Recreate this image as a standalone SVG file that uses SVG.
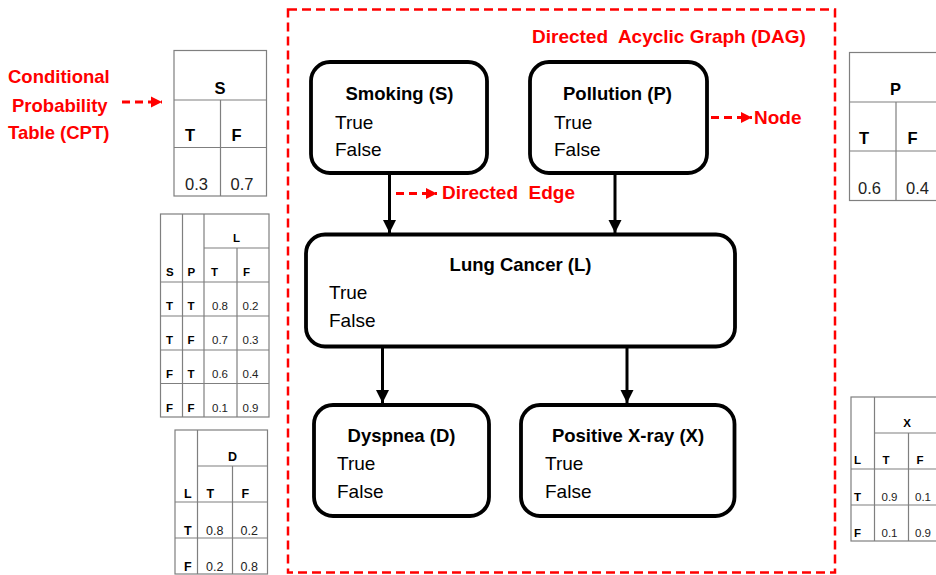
<svg xmlns="http://www.w3.org/2000/svg" width="936" height="575" viewBox="0 0 936 575">
  <defs>
    <marker id="blackHead" markerUnits="userSpaceOnUse" markerWidth="14" markerHeight="14" viewBox="0 0 14 14" refX="13" refY="7" orient="auto">
      <path d="M0,0.5 L13,7 L0,13.5 Z" fill="#000"/>
    </marker>
    <marker id="redHead" markerUnits="userSpaceOnUse" markerWidth="12" markerHeight="12" viewBox="0 0 12 12" refX="11" refY="6" orient="auto">
      <path d="M0,0.5 L11,6 L0,11.5 Z" fill="#ff0000"/>
    </marker>
    <style>
      .box { fill: #fff; stroke: #000; stroke-width: 3.8; }
      .frame { fill: none; stroke: #ff0000; stroke-width: 2.5; stroke-dasharray: 9 5; }
      .edge { stroke: #000; stroke-width: 3; fill: none; marker-end: url(#blackHead); }
      .callout { stroke: #ff0000; stroke-width: 3; fill: none; stroke-dasharray: 8 5; marker-end: url(#redHead); }
      .title { font-family: "Liberation Sans", Arial, sans-serif; font-weight: bold; font-size: 18.5px; fill: #000; text-anchor: middle; }
      .state { font-family: "Liberation Sans", Arial, sans-serif; font-size: 19px; fill: #000; }
      .red { font-family: "Liberation Sans", Arial, sans-serif; font-weight: bold; font-size: 19px; fill: #ff0000; white-space: pre; }
      .grid { fill: #fff; stroke: #7f7f7f; stroke-width: 1.2; }
      .gl { stroke: #7f7f7f; stroke-width: 1.2; }
      .th { font-family: "Liberation Sans", Arial, sans-serif; font-weight: bold; fill: #000; }
      .td { font-family: "Liberation Sans", Arial, sans-serif; fill: #222; }
      .big { font-size: 16.5px; }
      .mid { font-size: 12.5px; }
      .small { font-size: 11.5px; }
    </style>
  </defs>

  <rect width="936" height="575" fill="#fff"/>

  <!-- DAG frame and labels -->
  <rect class="frame" x="288" y="9.5" width="547" height="563"/>
  <text class="red" x="532" y="43" xml:space="preserve">Directed  Acyclic Graph (DAG)</text>
  <text class="red" x="8" y="83" style="font-size:18.5px">Conditional</text>
  <text class="red" x="12" y="112" style="font-size:18.5px">Probability</text>
  <text class="red" x="8" y="139" style="font-size:18.5px">Table (CPT)</text>
  <text class="red" x="754" y="124">Node</text>
  <text class="red" x="442" y="199" xml:space="preserve">Directed  Edge</text>

  <!-- connectors -->
  <g id="edges">
    <line class="edge" x1="389.5" y1="173" x2="389.5" y2="233"/>
    <line class="edge" x1="615" y1="173" x2="615" y2="233"/>
    <line class="edge" x1="382.5" y1="347" x2="382.5" y2="403"/>
    <line class="edge" x1="627" y1="347" x2="627" y2="403"/>
  </g>
  <g id="callouts">
    <line class="callout" x1="122" y1="102" x2="162" y2="102"/>
    <line class="callout" x1="711" y1="117.5" x2="752" y2="117.5"/>
    <line class="callout" x1="396" y1="193.5" x2="437" y2="193.5"/>
  </g>

  <!-- nodes -->
  <g id="smoking">
    <rect class="box" x="311" y="62" width="176" height="111" rx="19"/>
    <text class="title" x="399.5" y="99.5">Smoking (S)</text>
    <text class="state" x="335" y="128.5">True</text>
    <text class="state" x="335" y="156">False</text>
  </g>
  <g id="pollution">
    <rect class="box" x="530" y="62" width="177" height="111" rx="19"/>
    <text class="title" x="617.5" y="99.5">Pollution (P)</text>
    <text class="state" x="554" y="128.5">True</text>
    <text class="state" x="554" y="156">False</text>
  </g>
  <g id="lung">
    <rect class="box" x="306" y="234.5" width="429" height="112" rx="19"/>
    <text class="title" x="520.5" y="271">Lung Cancer (L)</text>
    <text class="state" x="329" y="299">True</text>
    <text class="state" x="329" y="327">False</text>
  </g>
  <g id="dyspnea">
    <rect class="box" x="314" y="405" width="175" height="111" rx="19"/>
    <text class="title" x="401.5" y="442">Dyspnea (D)</text>
    <text class="state" x="337" y="470">True</text>
    <text class="state" x="337" y="498">False</text>
  </g>
  <g id="xray">
    <rect class="box" x="521" y="405" width="213.5" height="111" rx="19"/>
    <text class="title" x="628" y="442">Positive X-ray (X)</text>
    <text class="state" x="545" y="470">True</text>
    <text class="state" x="545" y="498">False</text>
  </g>

  <!-- CPT for S -->
  <g id="cpt-s">
    <rect class="grid" x="174" y="50.5" width="92.5" height="145.5"/>
    <line class="gl" x1="174" y1="100" x2="266.5" y2="100"/>
    <line class="gl" x1="174" y1="147.5" x2="266.5" y2="147.5"/>
    <line class="gl" x1="220.5" y1="100" x2="220.5" y2="196"/>
    <text class="th big" x="220" y="93.5" text-anchor="middle">S</text>
    <text class="th big" x="185" y="141">T</text>
    <text class="th big" x="231.5" y="141">F</text>
    <text class="td big" x="185" y="189.5">0.3</text>
    <text class="td big" x="230.5" y="189.5">0.7</text>
  </g>

  <!-- CPT for P -->
  <g id="cpt-p">
    <rect class="grid" x="849.5" y="52.5" width="95" height="148"/>
    <line class="gl" x1="849.5" y1="102" x2="944" y2="102"/>
    <line class="gl" x1="849.5" y1="151" x2="944" y2="151"/>
    <line class="gl" x1="896" y1="102" x2="896" y2="200.5"/>
    <text class="th big" x="895.5" y="94.5" text-anchor="middle">P</text>
    <text class="th big" x="859" y="144">T</text>
    <text class="th big" x="907.5" y="144">F</text>
    <text class="td big" x="858" y="193.5">0.6</text>
    <text class="td big" x="906" y="193.5">0.4</text>
  </g>

  <!-- CPT for L -->
  <g id="cpt-l">
    <rect class="grid" x="160.5" y="214" width="108.5" height="203"/>
    <line class="gl" x1="204" y1="248" x2="269" y2="248"/>
    <line class="gl" x1="160.5" y1="282" x2="269" y2="282"/>
    <line class="gl" x1="160.5" y1="316" x2="269" y2="316"/>
    <line class="gl" x1="160.5" y1="350" x2="269" y2="350"/>
    <line class="gl" x1="160.5" y1="383.5" x2="269" y2="383.5"/>
    <line class="gl" x1="182.5" y1="214" x2="182.5" y2="417"/>
    <line class="gl" x1="204" y1="214" x2="204" y2="417"/>
    <line class="gl" x1="237" y1="248" x2="237" y2="417"/>
    <text class="th small" x="236.5" y="242" text-anchor="middle">L</text>
    <text class="th small" x="166" y="276">S</text>
    <text class="th small" x="187.5" y="276">P</text>
    <text class="th small" x="211" y="276">T</text>
    <text class="th small" x="243" y="276">F</text>
    <text class="th small" x="166" y="310">T</text>
    <text class="th small" x="187.5" y="310">T</text>
    <text class="td small" x="212" y="310">0.8</text>
    <text class="td small" x="242.5" y="310">0.2</text>
    <text class="th small" x="166" y="344">T</text>
    <text class="th small" x="187.5" y="344">F</text>
    <text class="td small" x="212" y="344">0.7</text>
    <text class="td small" x="242.5" y="344">0.3</text>
    <text class="th small" x="166" y="378">F</text>
    <text class="th small" x="187.5" y="378">T</text>
    <text class="td small" x="212" y="378">0.6</text>
    <text class="td small" x="242.5" y="378">0.4</text>
    <text class="th small" x="166" y="411.5">F</text>
    <text class="th small" x="187.5" y="411.5">F</text>
    <text class="td small" x="212" y="411.5">0.1</text>
    <text class="td small" x="242.5" y="411.5">0.9</text>
  </g>

  <!-- CPT for D -->
  <g id="cpt-d">
    <rect class="grid" x="175" y="430" width="92.5" height="144"/>
    <line class="gl" x1="197.5" y1="466" x2="267.5" y2="466"/>
    <line class="gl" x1="175" y1="502" x2="267.5" y2="502"/>
    <line class="gl" x1="175" y1="538" x2="267.5" y2="538"/>
    <line class="gl" x1="197.5" y1="430" x2="197.5" y2="574"/>
    <line class="gl" x1="232.5" y1="466" x2="232.5" y2="574"/>
    <text class="th mid" x="232.5" y="461" text-anchor="middle">D</text>
    <text class="th mid" x="184" y="497.5">L</text>
    <text class="th mid" x="206.5" y="497.5">T</text>
    <text class="th mid" x="241.5" y="497.5">F</text>
    <text class="th mid" x="184" y="534.5">T</text>
    <text class="td mid" x="206" y="534.5">0.8</text>
    <text class="td mid" x="240.5" y="534.5">0.2</text>
    <text class="th mid" x="184" y="571">F</text>
    <text class="td mid" x="206" y="571">0.2</text>
    <text class="td mid" x="240.5" y="571">0.8</text>
  </g>

  <!-- CPT for X -->
  <g id="cpt-x">
    <rect class="grid" x="851" y="397" width="92" height="144"/>
    <line class="gl" x1="874.5" y1="433" x2="943" y2="433"/>
    <line class="gl" x1="851" y1="469" x2="943" y2="469"/>
    <line class="gl" x1="851" y1="505" x2="943" y2="505"/>
    <line class="gl" x1="874.5" y1="397" x2="874.5" y2="541"/>
    <line class="gl" x1="908.5" y1="433" x2="908.5" y2="541"/>
    <text class="th small" x="907" y="427" text-anchor="middle">X</text>
    <text class="th small" x="854" y="464">L</text>
    <text class="th small" x="882.5" y="464">T</text>
    <text class="th small" x="916.5" y="464">F</text>
    <text class="th small" x="854" y="500.5">T</text>
    <text class="td small" x="881.5" y="500.5">0.9</text>
    <text class="td small" x="915" y="500.5">0.1</text>
    <text class="th small" x="854" y="537">F</text>
    <text class="td small" x="881.5" y="537">0.1</text>
    <text class="td small" x="915" y="537">0.9</text>
  </g>
</svg>
